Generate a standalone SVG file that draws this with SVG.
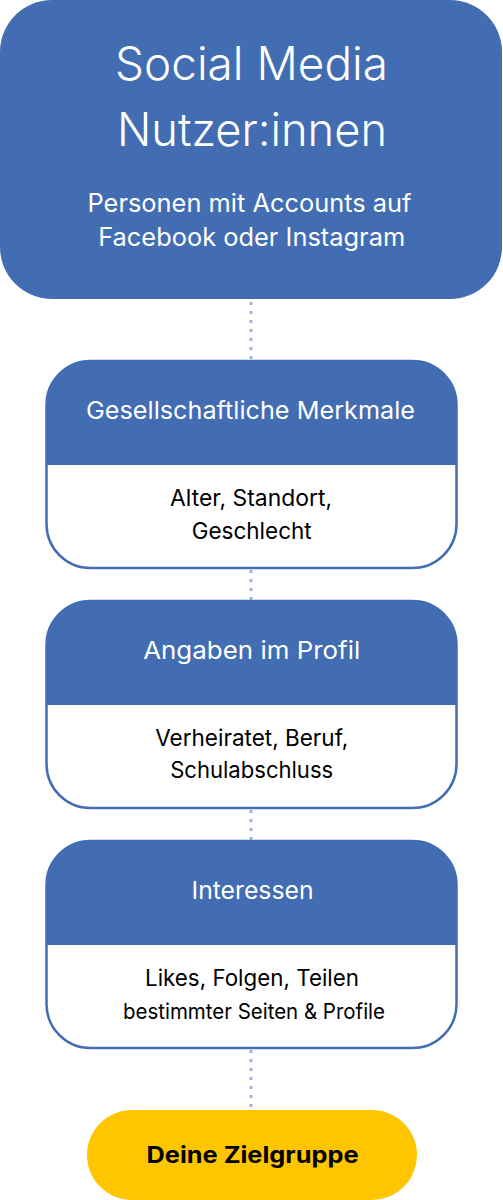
<svg xmlns="http://www.w3.org/2000/svg" width="503" height="1200" viewBox="0 0 503 1200">
<style>
.blue{fill:#426DB3}
.card{fill:#fff;stroke:#426DB3;stroke-width:2.5}
.conn{stroke:#9DB4DE;stroke-width:3;stroke-dasharray:3 6;fill:none}
text{font-family:Inter,"Noto Sans",sans-serif;text-anchor:middle}
.title{font-size:46px;font-weight:300;fill:#fff}
.sub{font-size:25px;fill:#fff}
.head{font-size:24.5px;fill:#fff}
.body{font-size:22.5px;fill:#000}
.goal{font-size:23px;font-weight:700;fill:#000}
</style>
<g id="connectors">
<line class="conn" x1="251" y1="302" x2="251" y2="360"/>
<line class="conn" x1="251" y1="570" x2="251" y2="600"/>
<line class="conn" x1="251" y1="810" x2="251" y2="840"/>
<line class="conn" x1="251" y1="1050" x2="251" y2="1110"/>
</g>
<g id="top">
<rect class="blue" x="0" y="0" width="502" height="299" rx="52"/>
<text class="title" x="251.5" y="80" textLength="273" lengthAdjust="spacingAndGlyphs">Social Media</text>
<text class="title" x="252" y="146" textLength="270" lengthAdjust="spacingAndGlyphs">Nutzer:innen</text>
<text class="sub" x="249.5" y="212" textLength="324" lengthAdjust="spacingAndGlyphs">Personen mit Accounts auf</text>
<text class="sub" x="251.7" y="246" textLength="307" lengthAdjust="spacingAndGlyphs">Facebook oder Instagram</text>
</g>
<g id="merkmale">
<rect class="card" x="46.5" y="361" width="410" height="207" rx="44"/>
<path class="blue" d="M46.5 465 V405 A44 44 0 0 1 90.5 361 H412.5 A44 44 0 0 1 456.5 405 V465 Z"/>
<text class="head" x="250.5" y="419" textLength="329" lengthAdjust="spacingAndGlyphs">Gesellschaftliche Merkmale</text>
<text class="body" x="251" y="506" textLength="162" lengthAdjust="spacingAndGlyphs">Alter, Standort,</text>
<text class="body" x="251.7" y="539" textLength="120" lengthAdjust="spacingAndGlyphs">Geschlecht</text>
</g>
<g id="profil">
<rect class="card" x="46.5" y="601" width="410" height="207" rx="44"/>
<path class="blue" d="M46.5 705 V645 A44 44 0 0 1 90.5 601 H412.5 A44 44 0 0 1 456.5 645 V705 Z"/>
<text class="head" x="251.7" y="659" textLength="217" lengthAdjust="spacingAndGlyphs">Angaben im Profil</text>
<text class="body" x="251.7" y="746" textLength="193" lengthAdjust="spacingAndGlyphs">Verheiratet, Beruf,</text>
<text class="body" x="251.7" y="778" textLength="163" lengthAdjust="spacingAndGlyphs">Schulabschluss</text>
</g>
<g id="interessen">
<rect class="card" x="46.5" y="841" width="410" height="207" rx="44"/>
<path class="blue" d="M46.5 945 V885 A44 44 0 0 1 90.5 841 H412.5 A44 44 0 0 1 456.5 885 V945 Z"/>
<text class="head" x="252.5" y="899" textLength="122" lengthAdjust="spacingAndGlyphs">Interessen</text>
<text class="body" x="252" y="986" textLength="214" lengthAdjust="spacingAndGlyphs">Likes, Folgen, Teilen</text>
<text class="body" x="254" y="1019" style="font-size:21.5px" textLength="262" lengthAdjust="spacingAndGlyphs">bestimmter Seiten &amp; Profile</text>
</g>
<g id="ziel">
<rect x="87" y="1110" width="330" height="90" rx="45" fill="#FFC600"/>
<text class="goal" x="252.5" y="1163" textLength="212" lengthAdjust="spacingAndGlyphs">Deine Zielgruppe</text>
</g>
</svg>
